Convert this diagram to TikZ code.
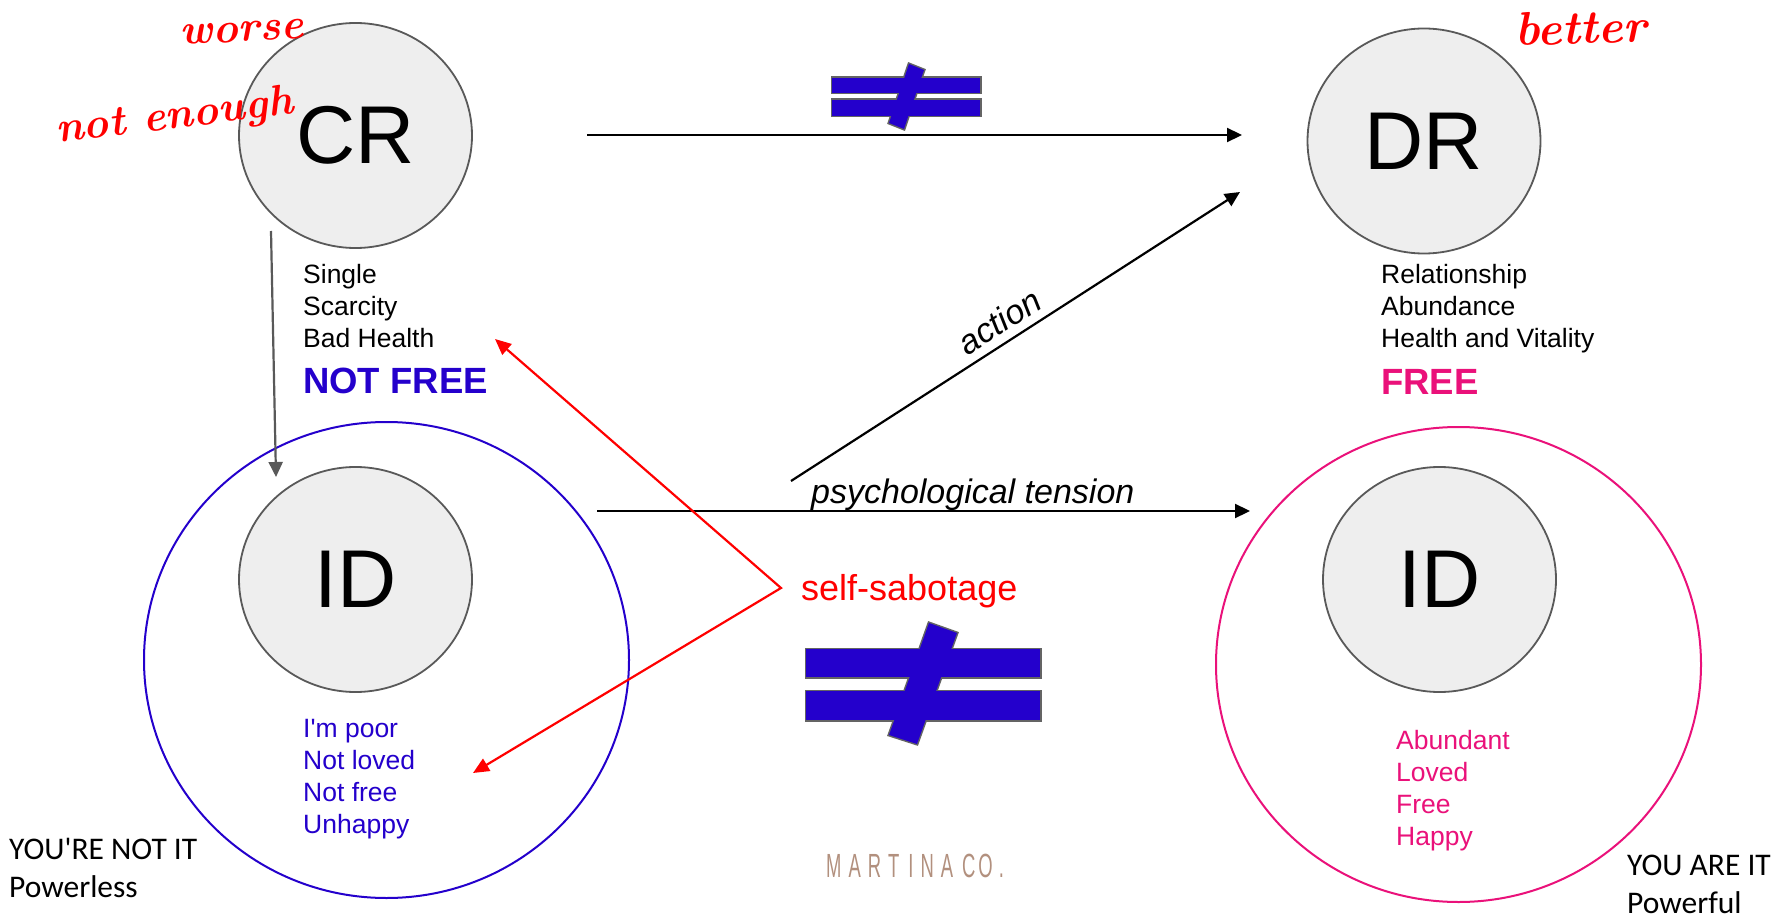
\documentclass[tikz,border=0pt]{standalone}
\usepackage{fontspec}
\usepackage{graphicx}
\newfontfamily\arial{Liberation Sans}
\newfontfamily\calib{Carlito}
\usetikzlibrary{shapes.geometric,arrows.meta}
\definecolor{nfblue}{RGB}{36,0,204}
\definecolor{frpink}{RGB}{234,17,122}
\definecolor{circfill}{RGB}{238,238,238}
\definecolor{circline}{RGB}{89,89,89}
\definecolor{neqline}{RGB}{100,100,100}
\definecolor{logotan}{RGB}{178,144,126}
\definecolor{sabred}{RGB}{255,0,0}
\newcommand\mcl[1]{\scalebox{0.55}[1]{#1}}
\begin{document}
\begin{tikzpicture}[x=1pt,y=-1pt,
  core/.style={ellipse, draw=circline, fill=circfill, line width=1.8pt,
    minimum width=233pt, minimum height=225pt, inner sep=0pt,
    font=\arial\fontsize{82}{90}\selectfont},
  ring/.style={ellipse, line width=2pt, minimum width=485pt,
    minimum height=476pt, inner sep=0pt},
  listtxt/.style={inner sep=0pt, anchor=base west, align=left,
    font=\arial\fontsize{26.5}{32}\selectfont},
  bigword/.style={inner sep=0pt, anchor=base west,
    font=\arial\bfseries\fontsize{36.5}{40}\selectfont},
  hand/.style={inner sep=0pt, anchor=base west, text=sabred,
    font=\normalfont\bfseries\itshape\fontsize{43}{47}\selectfont},
  youtxt/.style={inner sep=0pt, anchor=base west, align=left,
    font=\calib\fontsize{31.5}{37.5}\selectfont},
  conn/.style={line width=2.2pt, -{Triangle[length=15pt,width=14pt]}},
  grayconn/.style={conn, draw=circline, -{Triangle[length=15pt,width=14pt,fill=circline]}},
  redconn/.style={line width=2.2pt, draw=sabred,
    {Triangle[length=16pt,width=14pt,fill=sabred]}-{Triangle[length=16pt,width=14pt,fill=sabred]}},
  labtxt/.style={inner sep=0pt, font=\arial\itshape\fontsize{34}{38}\selectfont},
  neqedge/.style={draw=neqline, line width=3pt},
  neqfill/.style={fill=nfblue}
]
\useasboundingbox (0,0) rectangle (1792,920);
\fill[white] (0,0) rectangle (1792,920);

% outer rings
\node[ring, draw=nfblue] (ringL) at (386.5,660) {};
\node[ring, draw=frpink, minimum height=475pt] (ringR) at (1458.5,664.5) {};

% grey cores
\node[core] (CR) at (355.5,135.5) {CR};
\node[core] (DR) at (1424,141) {DR};
\node[core] (IDL) at (355.5,579.5) {ID};
\node[core] (IDR) at (1439.5,579.5) {ID};

% handwritten notes
\node[hand, rotate=3] (worse) at (180,45) {worse};
\node[hand, rotate=7] (notenough) at (57,143) {not enough};
\node[hand, rotate=2, font=\normalfont\bfseries\itshape\fontsize{47}{51}\selectfont] (better) at (1515,46) {better};

% lists (anchor = baseline of the last line)
\node[listtxt] (crlist) at (303,347) {Single\\Scarcity\\Bad Health};
\node[bigword, text=nfblue] (notfree) at (303,393) {NOT FREE};
\node[listtxt] (drlist) at (1381,347) {Relationship\\Abundance\\Health and Vitality};
\node[bigword, text=frpink] (free) at (1381,394) {FREE};
\node[listtxt, text=nfblue] (idlistL) at (303,833) {I'm poor\\Not loved\\Not free\\Unhappy};
\node[listtxt, text=frpink] (idlistR) at (1396,845) {Abundant\\Loved\\Free\\Happy};

\node[youtxt] (notit) at (9,897) {YOU'RE NOT IT\\Powerless};
\node[youtxt] (areit) at (1627,913) {YOU ARE IT\\Powerful};

% logo
\node[inner sep=0pt, anchor=base west, text=logotan,
  font=\arial\fontsize{33.5}{36}\selectfont] (logo) at (826,877)
  {\mcl{M}\hspace{7pt}\mcl{A}\hspace{7pt}\mcl{R}\hspace{7pt}\mcl{T}\hspace{9pt}\mcl{I}\hspace{7pt}\mcl{N}\hspace{7pt}\mcl{A}\hspace{9pt}\mcl{C}\hspace{3pt}\mcl{O}\hspace{6pt}\mcl{.}};

% self-sabotage label
\node[inner sep=0pt, anchor=base west, text=sabred,
  font=\arial\fontsize{36}{40}\selectfont] (sab) at (801,600) {self-sabotage};

% psychological tension label
\node[labtxt, anchor=base west] (psych) at (811,503) {psychological tension};

% connector end points
\coordinate (crA) at (587,135);
\coordinate (drA) at (1242,135);
\coordinate (actA) at (791,481);
\coordinate (actB) at (1240,192);
\coordinate (psyA) at (597,511);
\coordinate (psyB) at (1250,511);
\coordinate (grA) at (271,231);
\coordinate (grB) at (276,477);
\coordinate (sabT1) at (495,339);
\coordinate (sabV) at (781,588);
\coordinate (sabT2) at (473,773);

% connectors
\draw[conn] (crA) -- (drA);
\draw[conn] (actA) -- node[labtxt, sloped, above=8pt, pos=0.49] (actlbl) {action} (actB);
\draw[conn] (psyA) -- (psyB);
\draw[grayconn] (grA) -- (grB);
\draw[redconn, line join=miter] (sabT1) -- (sabV) -- (sabT2);

% not-equal sign (top): outlines first, then fills merge the shapes
\path[neqedge] (832,78) rectangle (980,93);
\path[neqedge] (832,100) rectangle (980,116);
\path[neqedge] (909,64) -- (924,70) -- (904,129) -- (889,123) -- cycle;
\path[neqfill] (832,78) rectangle (980,93);
\path[neqfill] (832,100) rectangle (980,116);
\path[neqfill] (909,64) -- (924,70) -- (904,129) -- (889,123) -- cycle;
% not-equal sign (bottom)
\path[neqedge] (806,649) rectangle (1040,677);
\path[neqedge] (806,691) rectangle (1040,720);
\path[neqedge] (929,623) -- (957,633) -- (917,744) -- (889,735) -- cycle;
\path[neqfill] (806,649) rectangle (1040,677);
\path[neqfill] (806,691) rectangle (1040,720);
\path[neqfill] (929,623) -- (957,633) -- (917,744) -- (889,735) -- cycle;
\end{tikzpicture}
\end{document}
